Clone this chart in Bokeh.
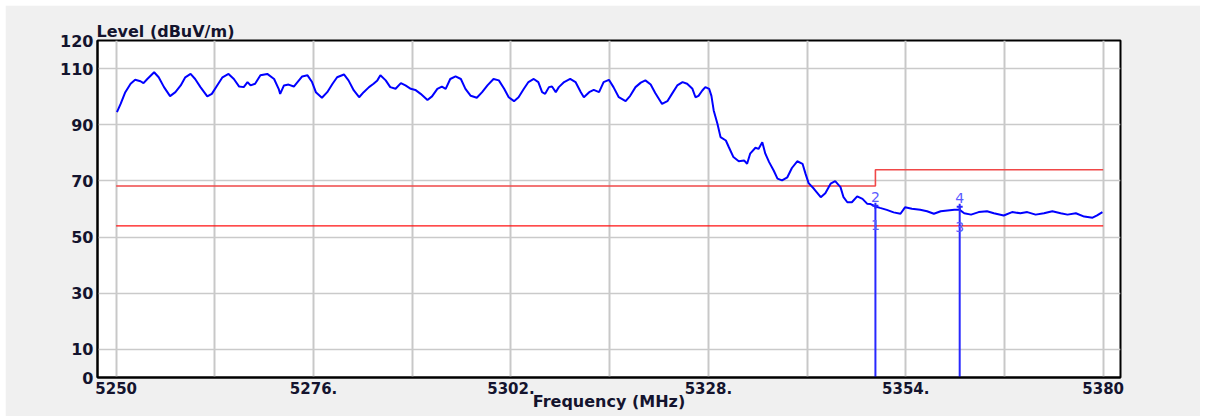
from bokeh.plotting import figure
from bokeh.models import FixedTicker, Range1d
from bokeh.core.properties import value
from bokeh.embed import file_html
from bokeh.resources import INLINE

# ---- data ----
freq = [5250.1, 5250.6, 5251.2, 5251.9, 5252.5, 5253.2, 5253.6, 5254.1, 5255.0, 5255.6,
        5256.3, 5257.1, 5257.8, 5258.5, 5259.1, 5259.8, 5260.4, 5261.1, 5262.0, 5262.6,
        5263.3, 5264.0, 5264.8, 5265.5, 5266.2, 5266.8, 5267.3, 5267.7, 5268.3, 5269.0,
        5269.9, 5270.8, 5271.4, 5271.6, 5272.1, 5272.7, 5273.4, 5274.5, 5275.2, 5275.8,
        5276.3, 5277.1, 5277.8, 5278.5, 5279.1, 5280.0, 5280.6, 5281.3, 5282.0, 5282.6,
        5283.3, 5283.9, 5284.4, 5284.8, 5285.5, 5286.1, 5286.8, 5287.5, 5288.1, 5288.8,
        5289.4, 5290.1, 5291.0, 5291.6, 5292.3, 5292.9, 5293.4, 5294.0, 5294.7, 5295.4,
        5296.0, 5296.7, 5297.5, 5298.2, 5298.9, 5299.7, 5300.4, 5301.1, 5301.7, 5302.4,
        5303.0, 5303.7, 5304.3, 5305.0, 5305.6, 5306.1, 5306.5, 5307.0, 5307.4, 5307.9,
        5308.3, 5309.0, 5309.8, 5310.5, 5311.2, 5311.6, 5312.3, 5312.9, 5313.6, 5314.2,
        5314.9, 5315.5, 5316.2, 5317.1, 5317.7, 5318.4, 5319.1, 5319.7, 5320.4, 5321.0,
        5321.9, 5322.6, 5323.2, 5323.9, 5324.6, 5325.2, 5325.9, 5326.3, 5326.7, 5327.2,
        5327.6, 5328.1, 5328.4, 5328.7, 5329.2, 5329.6, 5330.3, 5330.7, 5331.3, 5332.0,
        5332.7, 5333.1, 5333.5, 5334.2, 5334.6, 5335.1, 5335.5, 5336.0, 5336.6, 5337.1,
        5337.7, 5338.4, 5339.0, 5339.7, 5340.4, 5340.8, 5341.2, 5341.9, 5342.8, 5343.4,
        5344.1, 5344.7, 5345.4, 5345.8, 5346.3, 5346.9, 5347.6, 5348.3, 5348.9, 5349.3,
        5350.0, 5350.6, 5351.5, 5352.4, 5353.3, 5353.9, 5354.8, 5355.9, 5356.8, 5357.7,
        5358.6, 5359.5, 5360.4, 5361.1, 5361.7, 5362.6, 5363.6, 5364.7, 5365.6, 5366.9,
        5368.0, 5369.1, 5370.0, 5371.1, 5372.2, 5373.3, 5374.4, 5375.3, 5376.4, 5377.5,
        5378.6, 5379.2, 5379.9]
level = [94.5, 97.5, 101.6, 104.6, 106.0, 105.5, 104.8, 106.3, 108.7, 106.9,
         103.4, 100.2, 101.6, 104.0, 106.9, 108.1, 106.3, 103.4, 100.1, 101.0,
         104.0, 106.9, 108.1, 106.3, 103.6, 103.4, 105.2, 104.0, 104.6, 107.6,
         108.1, 106.3, 102.8, 101.0, 104.0, 104.3, 103.6, 107.2, 107.6, 105.2,
         101.6, 99.6, 101.6, 104.6, 106.9, 107.9, 105.8, 102.2, 99.8, 101.6,
         103.4, 104.6, 105.8, 107.6, 105.8, 103.4, 102.8, 104.8, 104.0, 102.8,
         102.4, 101.0, 98.8, 100.1, 102.8, 103.6, 102.8, 106.3, 107.2, 106.3,
         102.8, 100.3, 99.6, 101.6, 104.0, 106.3, 105.8, 102.8, 99.8, 98.4,
         99.8, 102.8, 105.2, 106.3, 105.2, 101.6, 101.0, 103.4, 103.6, 101.6,
         103.4, 105.2, 106.3, 105.2, 101.6, 99.8, 101.6, 102.4, 101.6, 105.2,
         106.0, 103.4, 99.8, 98.4, 100.3, 103.4, 105.0, 105.8, 104.3, 101.3,
         97.4, 98.4, 101.0, 104.0, 105.2, 104.6, 102.8, 99.8, 100.3, 102.2,
         103.4, 102.8, 100.3, 95.1, 90.3, 85.6, 84.4, 82.0, 78.5, 77.0,
         77.3, 76.1, 79.7, 81.8, 81.4, 83.8, 79.7, 76.7, 73.7, 70.8,
         70.2, 71.3, 74.6, 77.0, 76.1, 72.5, 69.2, 67.2, 64.2, 65.6,
         69.0, 69.9, 67.8, 64.2, 62.4, 62.4, 64.5, 63.6, 61.9, 61.8,
         60.9, 60.4, 59.7, 58.8, 58.3, 60.6, 60.1, 59.7, 59.2, 58.3,
         59.2, 59.5, 59.7, 59.7, 58.5, 58.0, 58.9, 59.2, 58.5, 57.7,
         58.9, 58.5, 58.9, 58.0, 58.5, 59.2, 58.5, 58.0, 58.5, 57.3,
         56.9, 57.7, 58.9]

peak_limit_freq = [5250, 5350, 5350, 5380]
peak_limit_level = [68.2, 68.2, 74.0, 74.0]
avg_limit_freq = [5250, 5380]
avg_limit_level = [54.0, 54.0]

marker_ids = ["1", "2", "3", "4"]
marker_freq = [5350.0, 5350.0, 5361.1, 5361.1]
marker_level = [54.4, 61.2, 53.6, 60.8]

x_ticks = [5250, 5276, 5302, 5328, 5354, 5380]
x_tick_labels = ["5250", "5276.", "5302.", "5328.", "5354.", "5380"]
x_grid = [5250, 5263, 5276, 5289, 5302, 5315, 5328, 5341, 5354, 5367, 5380]
y_ticks = [0, 10, 30, 50, 70, 90, 110, 120]
y_grid = [10, 30, 50, 70, 90, 110]

x_start, x_end = 5247.54, 5382.28
y_start, y_end = 0, 120

FONT = "DejaVu Sans"
TXT = "#14142e"

p = figure(width=1195, height=411, output_backend="svg", toolbar_location=None,
           title="Level (dBuV/m)",
           x_range=Range1d(x_start, x_end), y_range=Range1d(y_start, y_end),
           min_border_left=92, min_border_right=80, min_border_top=35, min_border_bottom=39)
p.margin = (5, 6, 2, 5)
p.border_fill_color = "#F0F0F0"
p.background_fill_color = "white"
p.outline_line_color = "black"
p.outline_line_width = 2

p.title.align = "left"
p.title.text_font = FONT
p.title.text_font_style = "bold"
p.title.text_font_size = "16px"
p.title.text_color = TXT
p.title.standoff = 0
p.title.offset = -1

for ax in (p.xaxis[0], p.yaxis[0]):
    ax.axis_line_color = "black"
    ax.axis_line_width = 2
    ax.major_tick_line_color = None
    ax.minor_tick_line_color = None
    ax.major_tick_out = 0
    ax.major_tick_in = 0
    ax.minor_tick_out = 0
    ax.minor_tick_in = 0
    ax.major_label_text_font = FONT
    ax.major_label_text_font_style = "bold"
    ax.major_label_text_font_size = "16px"
    ax.major_label_text_color = TXT
    ax.major_label_standoff = 4

p.xaxis.major_label_standoff = 4
p.xaxis.major_label_text_font_size = "15px"
p.xaxis.axis_label = "Frequency (MHz)"
p.xaxis.axis_label_standoff = -5
p.xaxis.axis_label_text_font = FONT
p.xaxis.axis_label_text_font_style = "bold"
p.xaxis.axis_label_text_font_size = "16px"
p.xaxis.axis_label_text_color = TXT

p.xaxis.ticker = FixedTicker(ticks=x_ticks)
p.xaxis.major_label_overrides = {t: l for t, l in zip(x_ticks, x_tick_labels)}
p.yaxis.ticker = FixedTicker(ticks=y_ticks)

p.xgrid.ticker = FixedTicker(ticks=x_grid)
p.ygrid.ticker = FixedTicker(ticks=y_grid)
p.xgrid.grid_line_color = "#C8C8C8"
p.xgrid.grid_line_width = 2
p.ygrid.grid_line_color = "#CACACA"
p.ygrid.grid_line_width = 1.5

# limit lines
p.line(avg_limit_freq, avg_limit_level, line_color="#FF1010", line_width=1.4)
p.line(peak_limit_freq, peak_limit_level, line_color="#F04848", line_width=1.6)

# trace
p.line(freq, level, line_color="#0000FF", line_width=2)

# markers
for mf, ml in zip(marker_freq[1::2], marker_level[1::2]):
    p.segment(x0=[mf], y0=[0], x1=[mf], y1=[ml], line_color="#2828FF", line_width=2)
p.scatter(marker_freq[1::2], marker_level[1::2], marker="cross", size=6,
          line_color="#2828FF", line_width=2)
p.text(marker_freq[1::2], marker_level[1::2], text=marker_ids[1::2], text_align="center",
       text_baseline="bottom", y_offset=-4, text_font=value(FONT), text_font_size="14px",
       text_color="#5A5AFF")
p.text(marker_freq[0::2], marker_level[0::2], text=marker_ids[0::2], text_align="center",
       text_baseline="middle", text_font=value(FONT), text_font_size="14px",
       text_color="#5A5AFF")

open("out.html", "w").write(file_html(p, INLINE))
